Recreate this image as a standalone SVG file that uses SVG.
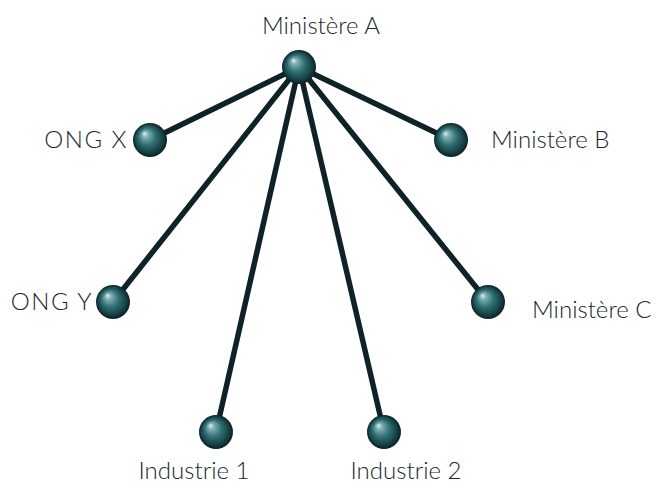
<svg xmlns="http://www.w3.org/2000/svg" width="656" height="484" viewBox="0 0 656 484">
<style>
.lbl{font-family:Lato,"Open Sans","Liberation Sans",sans-serif;font-size:24px;fill:#18272e;font-weight:300}
.wide{letter-spacing:1.5px}
.edge{stroke:#0f2227;stroke-width:5.5;stroke-linecap:round;fill:none}
.ball{fill:url(#sph)}
</style>
<defs>
<radialGradient id="sph" cx="0.5" cy="0.5" r="0.5" fx="0.33" fy="0.3">
<stop offset="0" stop-color="#e6f2f2"/>
<stop offset="0.18" stop-color="#7fb0b2"/>
<stop offset="0.5" stop-color="#2f7074"/>
<stop offset="0.85" stop-color="#153c40"/>
<stop offset="1" stop-color="#0a2023"/>
</radialGradient>
</defs>
<rect width="656" height="484" fill="#fff"/>
<g id="connectors">
<line class="edge" x1="299" y1="67" x2="150" y2="140"/>
<line class="edge" x1="299" y1="67" x2="451" y2="140"/>
<line class="edge" x1="299" y1="67" x2="113" y2="302"/>
<line class="edge" x1="299" y1="67" x2="488" y2="302"/>
<line class="edge" x1="299" y1="67" x2="216" y2="432"/>
<line class="edge" x1="299" y1="67" x2="384" y2="432"/>
</g>
<g id="ministere-a"><circle class="ball" cx="299" cy="67" r="17"/><text class="lbl" x="321" y="34" text-anchor="middle">Ministère A</text></g>
<g id="ong-x"><circle class="ball" cx="150" cy="140" r="17"/><text class="lbl wide" x="128" y="148" text-anchor="end">ONG X</text></g>
<g id="ministere-b"><circle class="ball" cx="451" cy="140" r="17"/><text class="lbl" x="491" y="148">Ministère B</text></g>
<g id="ong-y"><circle class="ball" cx="113" cy="302" r="17"/><text class="lbl wide" x="93" y="310" text-anchor="end">ONG Y</text></g>
<g id="ministere-c"><circle class="ball" cx="488" cy="302" r="17"/><text class="lbl" x="532" y="318">Ministère C</text></g>
<g id="industrie-1"><circle class="ball" cx="216" cy="432" r="17"/><text class="lbl" x="194" y="479" text-anchor="middle">Industrie 1</text></g>
<g id="industrie-2"><circle class="ball" cx="384" cy="432" r="17"/><text class="lbl" x="406" y="479" text-anchor="middle">Industrie 2</text></g>
</svg>
